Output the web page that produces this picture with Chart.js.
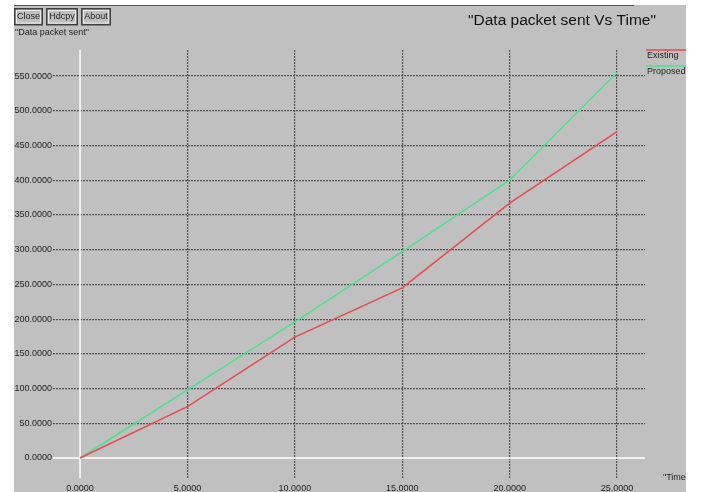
<!DOCTYPE html>
<html>
<head>
<meta charset="utf-8">
<script src="https://cdn.jsdelivr.net/npm/chart.js@4"></script>
<style>
  html, body { margin: 0; padding: 0; background: #fff; }
  canvas { display: block; }
</style>
</head>
<body>
<canvas id="packetChart" width="701" height="492"></canvas>
<script>
// Data
const times = [0, 5, 10, 15, 20, 25];
const existing = [0, 74, 174, 245, 367, 470];
const proposed = [0, 98, 196, 297, 400, 555];
const xTicks = [0, 5, 10, 15, 20, 25];
const yTicks = [0, 50, 100, 150, 200, 250, 300, 350, 400, 450, 500, 550];
const buttons = ['Close', 'Hdcpy', 'About'];

const FONT = '"Liberation Sans", Arial, sans-serif';

// xgraph-style window: gray panel, buttons, titles, legend, white zero lines
const xgraphFrame = {
    id: 'xgraphFrame',
    beforeDraw(chart) {
        const ctx = chart.ctx;
        ctx.save();
        ctx.fillStyle = '#c0c0c0';
        ctx.fillRect(14, 5, 672, 487);
        ctx.strokeStyle = '#555';
        ctx.lineWidth = 1;
        ctx.beginPath();
        ctx.moveTo(14, 5.5);
        ctx.lineTo(634, 5.5);
        ctx.stroke();

        // buttons
        ctx.font = '9px ' + FONT;
        ctx.textBaseline = 'middle';
        ctx.textAlign = 'center';
        let bx = 14;
        const widths = [29, 32, 30];
        buttons.forEach((b, i) => {
            const w = widths[i];
            ctx.strokeStyle = '#404040';
            ctx.lineWidth = 1.5;
            ctx.strokeRect(bx + 0.75, 8.75, w - 1.5, 16);
            ctx.strokeStyle = '#e8e8e8';
            ctx.lineWidth = 1;
            ctx.strokeRect(bx + 2.5, 10.5, w - 5, 12.5);
            ctx.fillStyle = '#222';
            ctx.fillText(b, bx + w / 2, 17);
            bx += w + 3;
        });

        ctx.textAlign = 'left';
        ctx.fillText('"Data packet sent"', 15, 33);

        ctx.font = '15.5px ' + FONT;
        ctx.textAlign = 'center';
        ctx.fillStyle = '#111';
        ctx.fillText('"Data packet sent Vs Time"', 562, 21);
        ctx.restore();
    },
    beforeDatasetsDraw(chart) {
        const ctx = chart.ctx;
        const area = chart.chartArea;
        const x0 = chart.scales.x.getPixelForValue(0);
        const y0 = chart.scales.y.getPixelForValue(0);
        ctx.save();
        ctx.strokeStyle = '#ffffff';
        ctx.lineWidth = 1.5;
        ctx.beginPath();
        ctx.moveTo(x0, area.top);
        ctx.lineTo(x0, area.bottom);
        ctx.moveTo(area.left, y0);
        ctx.lineTo(area.right, y0);
        ctx.stroke();
        ctx.restore();
    },
    afterDraw(chart) {
        const ctx = chart.ctx;
        ctx.save();
        ctx.beginPath();
        ctx.rect(14, 5, 672, 487);
        ctx.clip();
        ctx.font = '9px ' + FONT;
        ctx.textBaseline = 'middle';
        ctx.textAlign = 'left';
        chart.data.datasets.forEach((ds, i) => {
            const ly = 50 + i * 16;
            ctx.strokeStyle = ds.borderColor;
            ctx.lineWidth = 1.5;
            ctx.beginPath();
            ctx.moveTo(646, ly);
            ctx.lineTo(686, ly);
            ctx.stroke();
            ctx.fillStyle = '#222';
            ctx.fillText(ds.label, 647, ly + 6);
        });
        ctx.fillText('"Time"', 663, 478);
        ctx.restore();
    }
};

const gridColor = c => (c.tick && c.tick.value === 0) ? 'rgba(0,0,0,0)' : '#505050';

new Chart(document.getElementById('packetChart'), {
    type: 'line',
    data: {
        labels: times,
        datasets: [{
            label: 'Existing',
            data: times.map((t, i) => ({ x: t, y: existing[i] })),
            borderColor: '#e84a4e',
            borderWidth: 1.5,
            pointRadius: 0,
            tension: 0
        }, {
            label: 'Proposed',
            data: times.map((t, i) => ({ x: t, y: proposed[i] })),
            borderColor: '#4ee08e',
            borderWidth: 1.5,
            pointRadius: 0,
            tension: 0
        }]
    },
    options: {
        responsive: false,
        animation: false,
        devicePixelRatio: 1,
        layout: {
            padding: { left: 14, right: 56, top: 50, bottom: 0 }
        },
        plugins: {
            legend: { display: false },
            tooltip: { enabled: false }
        },
        scales: {
            x: {
                type: 'linear',
                min: -1.26,
                max: 26.3,
                afterBuildTicks: scale => { scale.ticks = xTicks.map(v => ({ value: v })); },
                afterFit: scale => { scale.height = 14; },
                grid: { color: gridColor, lineWidth: 1.2, drawTicks: false },
                border: { display: false, dash: [2, 1] },
                ticks: {
                    padding: 5,
                    color: '#222',
                    font: { family: FONT, size: 9 },
                    maxRotation: 0,
                    callback: v => Number(v).toFixed(4)
                }
            },
            y: {
                type: 'linear',
                min: -28.8,
                max: 587.5,
                afterBuildTicks: scale => { scale.ticks = yTicks.map(v => ({ value: v })); },
                afterFit: scale => { scale.width = 39; },
                grid: { color: gridColor, lineWidth: 1.2, drawTicks: false },
                border: { display: false, dash: [2, 1] },
                ticks: {
                    padding: 1,
                    color: '#222',
                    font: { family: FONT, size: 9 },
                    callback: v => Number(v).toFixed(4)
                }
            }
        }
    },
    plugins: [xgraphFrame]
});
</script>
</body>
</html>
